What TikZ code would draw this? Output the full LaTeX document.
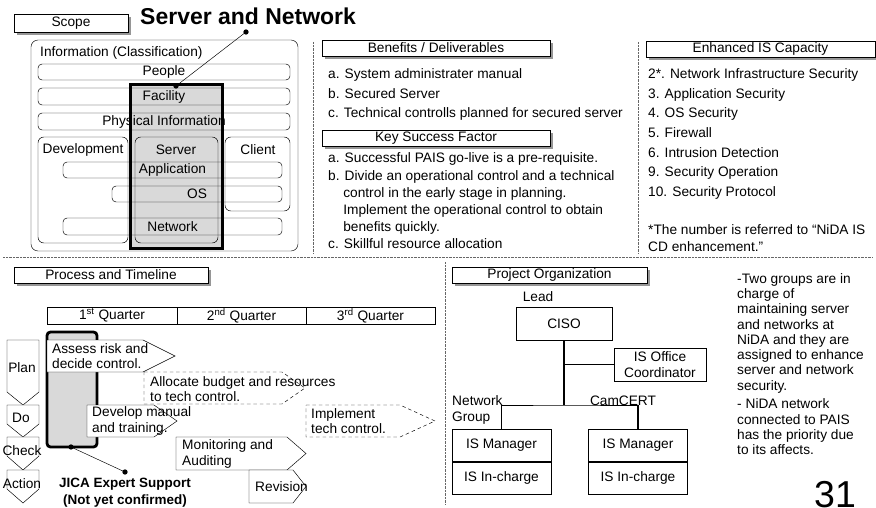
\documentclass[tikz,border=0pt]{standalone}
\usepackage{fontspec}
\setmainfont{Liberation Sans}
\usetikzlibrary{positioning,fit,shadows}
\definecolor{hl}{RGB}{217,217,217}
\definecolor{shd}{RGB}{150,150,150}
% right-pointing step shape: [style]{x left}{y top}{x flat end}{x tip}{y bottom}
\newcommand{\procarrow}[6][]{\draw[fill=white,#1] (#2,#3) -- (#4,#3) -- (#5,{(#3+#6)/2}) -- (#4,#6) -- (#2,#6) -- cycle;}
% downward PDCA chevron: {y top}{y side end}{y tip}
\newcommand{\pdcashape}[3]{\draw[fill=white] (7,#1) -- (39,#1) -- (39,#2) -- (23,#3) -- (7,#2) -- cycle;}

\begin{document}
\begin{tikzpicture}[x=0.03cm,y=-0.03cm,font=\fontsize{11.7}{13.2}\selectfont,
  hdr/.style={draw,fill=white,inner sep=0pt,drop shadow={shadow xshift=2.2pt,shadow yshift=-2.2pt,fill=shd,opacity=1}},
  bar/.style={draw,rounded corners=3.5pt,inner sep=0pt},
  grp/.style={draw,rounded corners=5pt,inner sep=0pt},
  sep/.style={draw=black!60,dash pattern=on .6pt off .6pt},
  dot/.style={circle,fill,inner sep=0pt,minimum size=4.5pt},
  ob/.style={draw,fill=white,minimum width=2.97cm,minimum height=0.97cm,inner sep=1pt},
  lst/.style={anchor=base west,align=left,inner sep=0pt},
  txt/.style={anchor=west,align=left,inner sep=0pt}]
\useasboundingbox (0,0) rectangle (876,507);

% scope
\node[hdr,fit={(14,14)(128,32)},label=center:Scope] (scope) {};
\node[anchor=base west,inner sep=0pt,font=\fontsize{19.6}{22}\selectfont\bfseries] (title) at (140,25) {Server and Network};
\node[grp,rounded corners=6pt,fit={(31,40)(298,251)}] (info) {};
\node[txt] (infol) at (40,53) {Information (Classification)};
\node[fill=hl,inner sep=0pt,fit={(131,85)(222,248)}] (srv) {};
\node[bar,fit={(38,64)(290,80)},label=center:People] (people) {};
\node[bar,fit={(38,88)(290,105)},label=center:Facility] (facility) {};
\node[bar,fit={(38,113)(290,130)},label=center:Physical Information] (phys) {};
\node[grp,fit={(38,137)(128,243)}] (dev) {};
\node[grp,fit={(135,137)(218,243)}] (server) {};
\node[grp,fit={(225,137)(290,211)}] (client) {};
\node (devl) at (83,150) {Development};
\node (serverl) at (176,150) {Server};
\node (clientl) at (258,150) {Client};
\node[bar,fit={(63,162)(282,178)},label=center:Application] (app) {};
\node[bar,fit={(112,186)(282,202)},label=center:OS] (os) {};
\node[bar,fit={(63,218)(282,235)},label=center:Network] (net) {};
\draw[line width=2.4pt] (srv.north west) rectangle (srv.south east);
\node[dot] (t1) at (246,32) {};
\node[dot] (t2) at (176,86) {};
\draw (t1.center) -- (t2.center);

% separators
\coordinate (h1) at (3,257); \coordinate (h2) at (873,257);
\coordinate (v1) at (313,42); \coordinate (v2) at (313,254);
\coordinate (v3) at (638,42); \coordinate (v4) at (638,254);
\coordinate (v5) at (445,262); \coordinate (v6) at (445,505);
\draw[sep] (h1) -- (h2); \draw[sep] (v1) -- (v2); \draw[sep] (v3) -- (v4); \draw[sep] (v5) -- (v6);

% benefits and key success factor (base = last line)
\node[hdr,fit={(322,40)(550,56)},label=center:Benefits / Deliverables] (ben) {};
\node[lst,font=\fontsize{11.7}{16.6}\selectfont] (benl) at (328,117.5) {a. System administrater manual\\b. Secured Server\\c. Technical controlls planned for secured server};
\node[hdr,fit={(322,130)(550,146)},label=center:Key Success Factor] (ksf) {};
\node[lst,font=\fontsize{11.7}{14.6}\selectfont] (ksfl) at (328,248.5) {a. Successful PAIS go-live is a pre-requisite.\\b. Divide an operational control and a technical\\\hspace*{1.1em}control in the early stage in planning.\\\hspace*{1.1em}Implement the operational control to obtain\\\hspace*{1.1em}benefits quickly.\\c. Skillful resource allocation};

% enhanced capacity
\node[hdr,fit={(646,41)(875,57)},label=center:Enhanced IS Capacity] (enh) {};
\node[lst,font=\fontsize{11.7}{16.8}\selectfont] (enhl) at (648,196.5) {2*. Network Infrastructure Security\\3. Application Security\\4. OS Security\\5. Firewall\\6. Intrusion Detection\\9. Security Operation\\10. Security Protocol};
\node[lst,font=\fontsize{11.7}{14.5}\selectfont] (note) at (648,251.5) {*The number is referred to “NiDA IS\\CD enhancement.”};

% process and timeline
\node[hdr,fit={(14,267)(208,283)},label=center:Process and Timeline] (ptl) {};
\node[draw,inner sep=0pt,fit={(47,307)(177,324)},label=center:1\textsuperscript{st} Quarter] (q1) {};
\node[draw,inner sep=0pt,fit={(177,307)(306,324)},label=center:2\textsuperscript{nd} Quarter] (q2) {};
\node[draw,inner sep=0pt,fit={(306,307)(435,324)},label=center:3\textsuperscript{rd} Quarter] (q3) {};
\node[draw,fill=hl,line width=2.4pt,rounded corners=3pt,inner sep=0pt,fit={(47,332)(97,447)}] (jica) {};
\pdcashape{340}{392}{405}
\pdcashape{405}{424}{437}
\pdcashape{437}{456}{470}
\pdcashape{470}{489}{503}
\node (plan) at (22,368) {Plan};
\node (do) at (21,418) {Do};
\node (check) at (22,451) {Check};
\node (act) at (22,484) {Action};
\procarrow{47}{340}{143}{175}{372}
\node[txt] (assess) at (52,356) {Assess risk and\\decide control.};
\procarrow[dash pattern=on 3pt off 2.5pt]{144}{372}{282}{305}{404}
\node[txt] (alloc) at (150,389) {Allocate budget and resources\\to tech control.};
\procarrow{87}{405}{154}{177}{437}
\node[txt] (develop) at (92,421) {Develop manual\\and training.};
\procarrow[dash pattern=on 3pt off 2.5pt]{306}{405}{400}{435}{437}
\node[txt] (impl) at (311,421) {Implement\\tech control.};
\procarrow{176}{437}{287}{306}{470}
\node[txt] (monit) at (182,454) {Monitoring and\\Auditing};
\procarrow{249}{470}{293}{306}{503}
\node[txt] (revis) at (255,487) {Revision};
\node[dot] (j1) at (71,447) {};
\node[dot] (j2) at (125,472) {};
\draw (j1.center) -- (j2.center);
\node[align=center,font=\fontsize{11.5}{15}\selectfont\bfseries] (jical) at (125,492.5) {JICA Expert Support\\(Not yet confirmed)};

% project organization
\node[hdr,fit={(452,267)(647,283)},label=center:Project Organization] (porg) {};
\node (lead) at (538,297) {Lead};
\node[ob,minimum width=2.88cm,minimum height=0.99cm] (ciso) at (564,323.5) {CISO};
\node[ob,minimum width=2.76cm,minimum height=0.99cm,align=center] (isoc) at (660,364.5) {IS Office\\Coordinator};
\node[ob] (mgr1) at (501.5,445.2) {IS Manager};
\node[ob,below=0pt of mgr1] (inc1) {IS In-charge};
\node[ob] (mgr2) at (638,445.2) {IS Manager};
\node[ob,below=0pt of mgr2] (inc2) {IS In-charge};
\node[txt] (netg) at (452,410) {Network\\Group};
\node (cam) at (623,401) {CamCERT};
\coordinate (jn) at (564,405);
\draw[line width=1.4pt] (ciso) -- (jn);
\draw[line width=0.8pt] (ciso.south |- isoc.west) -- (isoc.west);
\draw[line width=0.8pt] (mgr1) |- (jn) -- (jn -| mgr2);
\draw[line width=1.4pt] (jn -| mgr2) -- (mgr2);
\node[lst,font=\fontsize{11.7}{13}\selectfont] (notes) at (737,454.5) {-Two groups are in\\charge of\\maintaining server\\and networks at\\NiDA and they are\\assigned to enhance\\server and network\\security.\\[3pt]- NiDA network\\connected to PAIS\\has the priority due\\to its affects.};
\node[anchor=base,inner sep=0pt,font=\fontsize{32}{32}\selectfont] (pg) at (835,507) {31};
\end{tikzpicture}
\end{document}
